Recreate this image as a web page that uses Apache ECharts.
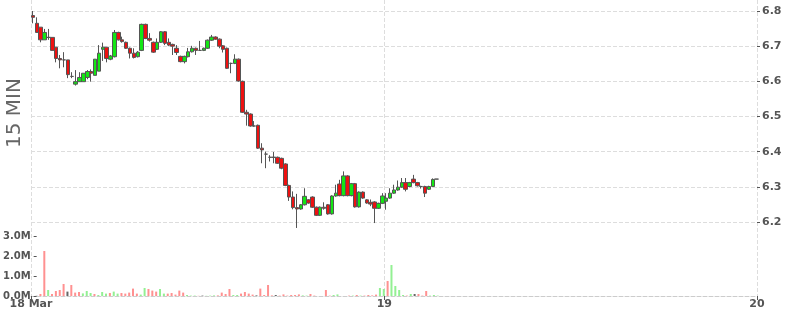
<!DOCTYPE html>
<html><head><meta charset="utf-8">
<script src="https://cdn.jsdelivr.net/npm/echarts@6/dist/echarts.min.js"></script>
<style>html,body{margin:0;padding:0;background:#fff}#c{width:800px;height:315px}</style>
</head><body><div id="c"></div>
<script>
// 15-minute candles starting 18 Mar 01:15 (UTC)
const firstSlot = Date.UTC(2024, 2, 18, 1, 15);
const slotMinutes = 15;
const axisStart = Date.UTC(2024, 2, 18, 1, 15);
const axisEnd = Date.UTC(2024, 2, 20, 0, 0);
const xLabels = ['18 Mar', '19', '20'];
const watermark = '15 MIN';

const opens = [6.787,6.765,6.754,6.718,6.725,6.725,6.697,6.665,6.661,6.661,6.614,6.592,6.599,6.599,6.611,6.628,6.617,6.629,6.691,6.697,6.663,6.670,6.739,6.718,6.711,6.694,6.680,6.670,6.688,6.762,6.722,6.711,6.691,6.711,6.741,6.711,6.705,6.694,6.671,6.656,6.670,6.684,6.694,6.688,6.688,6.694,6.717,6.726,6.720,6.701,6.694,6.651,6.651,6.663,6.600,6.512,6.507,6.473,6.475,6.410,6.393,6.384,6.384,6.384,6.381,6.365,6.304,6.271,6.241,6.237,6.249,6.263,6.271,6.242,6.219,6.242,6.249,6.223,6.274,6.308,6.275,6.331,6.275,6.309,6.243,6.285,6.263,6.256,6.257,6.239,6.253,6.259,6.268,6.282,6.291,6.299,6.312,6.301,6.322,6.312,6.301,6.301,6.293,6.301,6.322];
const closes = [6.782,6.739,6.718,6.739,6.725,6.688,6.665,6.661,6.661,6.619,6.614,6.599,6.611,6.623,6.628,6.623,6.663,6.680,6.697,6.665,6.672,6.739,6.718,6.713,6.694,6.680,6.668,6.683,6.762,6.722,6.717,6.683,6.711,6.741,6.708,6.703,6.700,6.682,6.656,6.671,6.684,6.694,6.688,6.688,6.694,6.717,6.726,6.720,6.700,6.691,6.637,6.651,6.663,6.601,6.512,6.507,6.473,6.473,6.410,6.405,6.393,6.384,6.384,6.367,6.353,6.304,6.271,6.241,6.237,6.249,6.273,6.254,6.242,6.219,6.242,6.239,6.223,6.274,6.282,6.275,6.331,6.275,6.309,6.243,6.285,6.268,6.254,6.251,6.239,6.253,6.274,6.268,6.282,6.291,6.299,6.312,6.293,6.312,6.312,6.303,6.301,6.282,6.301,6.321,6.322];
const lows = [6.765,6.739,6.711,6.718,6.718,6.688,6.654,6.637,6.640,6.609,6.609,6.588,6.599,6.599,6.606,6.599,6.617,6.629,6.658,6.654,6.660,6.668,6.716,6.710,6.692,6.665,6.665,6.668,6.686,6.720,6.713,6.681,6.689,6.709,6.703,6.700,6.675,6.675,6.654,6.651,6.668,6.682,6.675,6.688,6.686,6.692,6.715,6.718,6.694,6.682,6.635,6.623,6.649,6.599,6.510,6.474,6.471,6.471,6.408,6.367,6.353,6.372,6.367,6.365,6.350,6.302,6.260,6.236,6.183,6.235,6.247,6.252,6.240,6.217,6.217,6.235,6.221,6.221,6.272,6.273,6.273,6.273,6.273,6.241,6.241,6.266,6.252,6.245,6.197,6.237,6.251,6.235,6.266,6.280,6.289,6.297,6.287,6.299,6.310,6.301,6.295,6.271,6.291,6.299,6.322];
const highs = [6.800,6.782,6.754,6.749,6.749,6.725,6.697,6.675,6.683,6.661,6.626,6.632,6.626,6.623,6.632,6.634,6.663,6.703,6.710,6.697,6.675,6.746,6.741,6.727,6.713,6.696,6.694,6.686,6.764,6.764,6.737,6.713,6.722,6.743,6.743,6.722,6.707,6.703,6.673,6.673,6.695,6.701,6.696,6.715,6.696,6.719,6.732,6.728,6.722,6.703,6.696,6.653,6.677,6.665,6.602,6.519,6.509,6.487,6.477,6.424,6.400,6.390,6.399,6.386,6.383,6.367,6.306,6.287,6.280,6.251,6.296,6.265,6.273,6.244,6.244,6.256,6.251,6.276,6.306,6.320,6.344,6.333,6.311,6.311,6.287,6.287,6.265,6.264,6.259,6.255,6.282,6.282,6.296,6.306,6.318,6.325,6.325,6.314,6.334,6.314,6.303,6.303,6.303,6.324,6.322];
// volume in millions
const volumes = [0.01,0.1,2.25,0.3,0.1,0.25,0.3,0.6,0.22,0.55,0.17,0.2,0.13,0.25,0.15,0.1,0.05,0.2,0.12,0.15,0.22,0.12,0.15,0.12,0.17,0.37,0.12,0.07,0.4,0.35,0.27,0.22,0.35,0.12,0.12,0.15,0.07,0.27,0.17,0.05,0.02,0.02,0.01,0.02,0.01,0.02,0.03,0.03,0.17,0.1,0.35,0.05,0.05,0.12,0.2,0.12,0.07,0.03,0.37,0.05,0.55,0.03,0.05,0.02,0.08,0.02,0.05,0.05,0.08,0.03,0.02,0.1,0.02,0,0,0.3,0.02,0.05,0.08,0,0,0.02,0.02,0.05,0.02,0.02,0.05,0.03,0.07,0.4,0.35,0.75,1.55,0.5,0.3,0.05,0.02,0.1,0.1,0.1,0.02,0.25,0.02,0.05,0.02];

const slotMs = slotMinutes * 60000;
const times = opens.map((_, i) => firstSlot + i * slotMs + slotMs / 2);
const candleData = opens.map((o, i) => [times[i], o, closes[i], lows[i], highs[i]]);
const volData = volumes.map((v, i) => {
  const prev = i > 0 ? closes[i - 1] : closes[i];
  const c = closes[i] > prev ? '#93f093' : (closes[i] < prev ? '#ff9191' : '#666666');
  return { value: [times[i], v * 1e6], itemStyle: { color: c } };
});

const labelFont = { color: '#555', fontWeight: 'bold', fontFamily: 'DejaVu Sans' };
const day0 = Date.UTC(2024, 2, 18);

const chart = echarts.init(document.getElementById('c'), null, { renderer: 'canvas' });
chart.setOption({
  animation: false,
  useUTC: true,
  backgroundColor: '#fff',
  grid: [
    { left: 31, right: 43, top: 11, height: 211 },
    { left: 31, right: 43, top: 236, height: 60 },
    { left: 31, right: 43, top: 0, height: 296 }
  ],
  xAxis: [
    { type: 'time', gridIndex: 0, min: axisStart, max: axisEnd, show: false },
    { type: 'time', gridIndex: 1, min: axisStart, max: axisEnd, show: false },
    { type: 'time', gridIndex: 2, min: axisStart, max: axisEnd,
      minInterval: 864e5, maxInterval: 864e5,
      axisLine: { show: true, lineStyle: { color: '#ccc', type: 'dashed' } },
      axisTick: { show: true, length: 4, lineStyle: { color: '#555' } },
      axisLabel: Object.assign({ margin: 3, showMinLabel: true, showMaxLabel: true, hideOverlap: false, fontSize: 11,
        formatter: function (v) { return xLabels[Math.floor((v - day0) / 864e5)]; } }, labelFont),
      splitLine: { show: true, lineStyle: { color: '#ddd', type: 'dashed' } }
    }
  ],
  yAxis: [
    { type: 'value', gridIndex: 0, position: 'right', min: 6.2, max: 6.8, interval: 0.1, scale: true,
      axisLine: { show: false },
      axisTick: { show: true, length: 3, lineStyle: { color: '#555' } },
      axisLabel: Object.assign({ margin: 5, fontSize: 11, formatter: v => v.toFixed(1) }, labelFont),
      splitLine: { show: true, lineStyle: { color: '#ddd', type: 'dashed' } }
    },
    { type: 'value', gridIndex: 1, position: 'left', min: 0, max: 3e6, interval: 1e6,
      axisLine: { show: false },
      axisTick: { show: true, inside: true, length: 3, lineStyle: { color: '#555' } },
      axisLabel: Object.assign({ margin: 3, fontSize: 10, formatter: v => (v / 1e6).toFixed(1) + 'M' }, labelFont),
      splitLine: { show: false }
    },
    { type: 'value', gridIndex: 2, show: false }
  ],
  graphic: [{
    type: 'text', x: 15, y: 113, rotation: Math.PI / 2,
    style: { text: watermark, font: '20px "DejaVu Sans"', fill: '#666', align: 'center', verticalAlign: 'middle' }
  }],
  series: [
    { type: 'candlestick', xAxisIndex: 0, yAxisIndex: 0, clip: false, barWidth: 4,
      data: candleData,
      itemStyle: { color: '#14e614', color0: '#ee1111', borderColor: '#555', borderColor0: '#555', borderWidth: 1 }
    },
    { type: 'bar', xAxisIndex: 1, yAxisIndex: 1, barWidth: 2, data: volData }
  ]
});
</script>
</body></html>
